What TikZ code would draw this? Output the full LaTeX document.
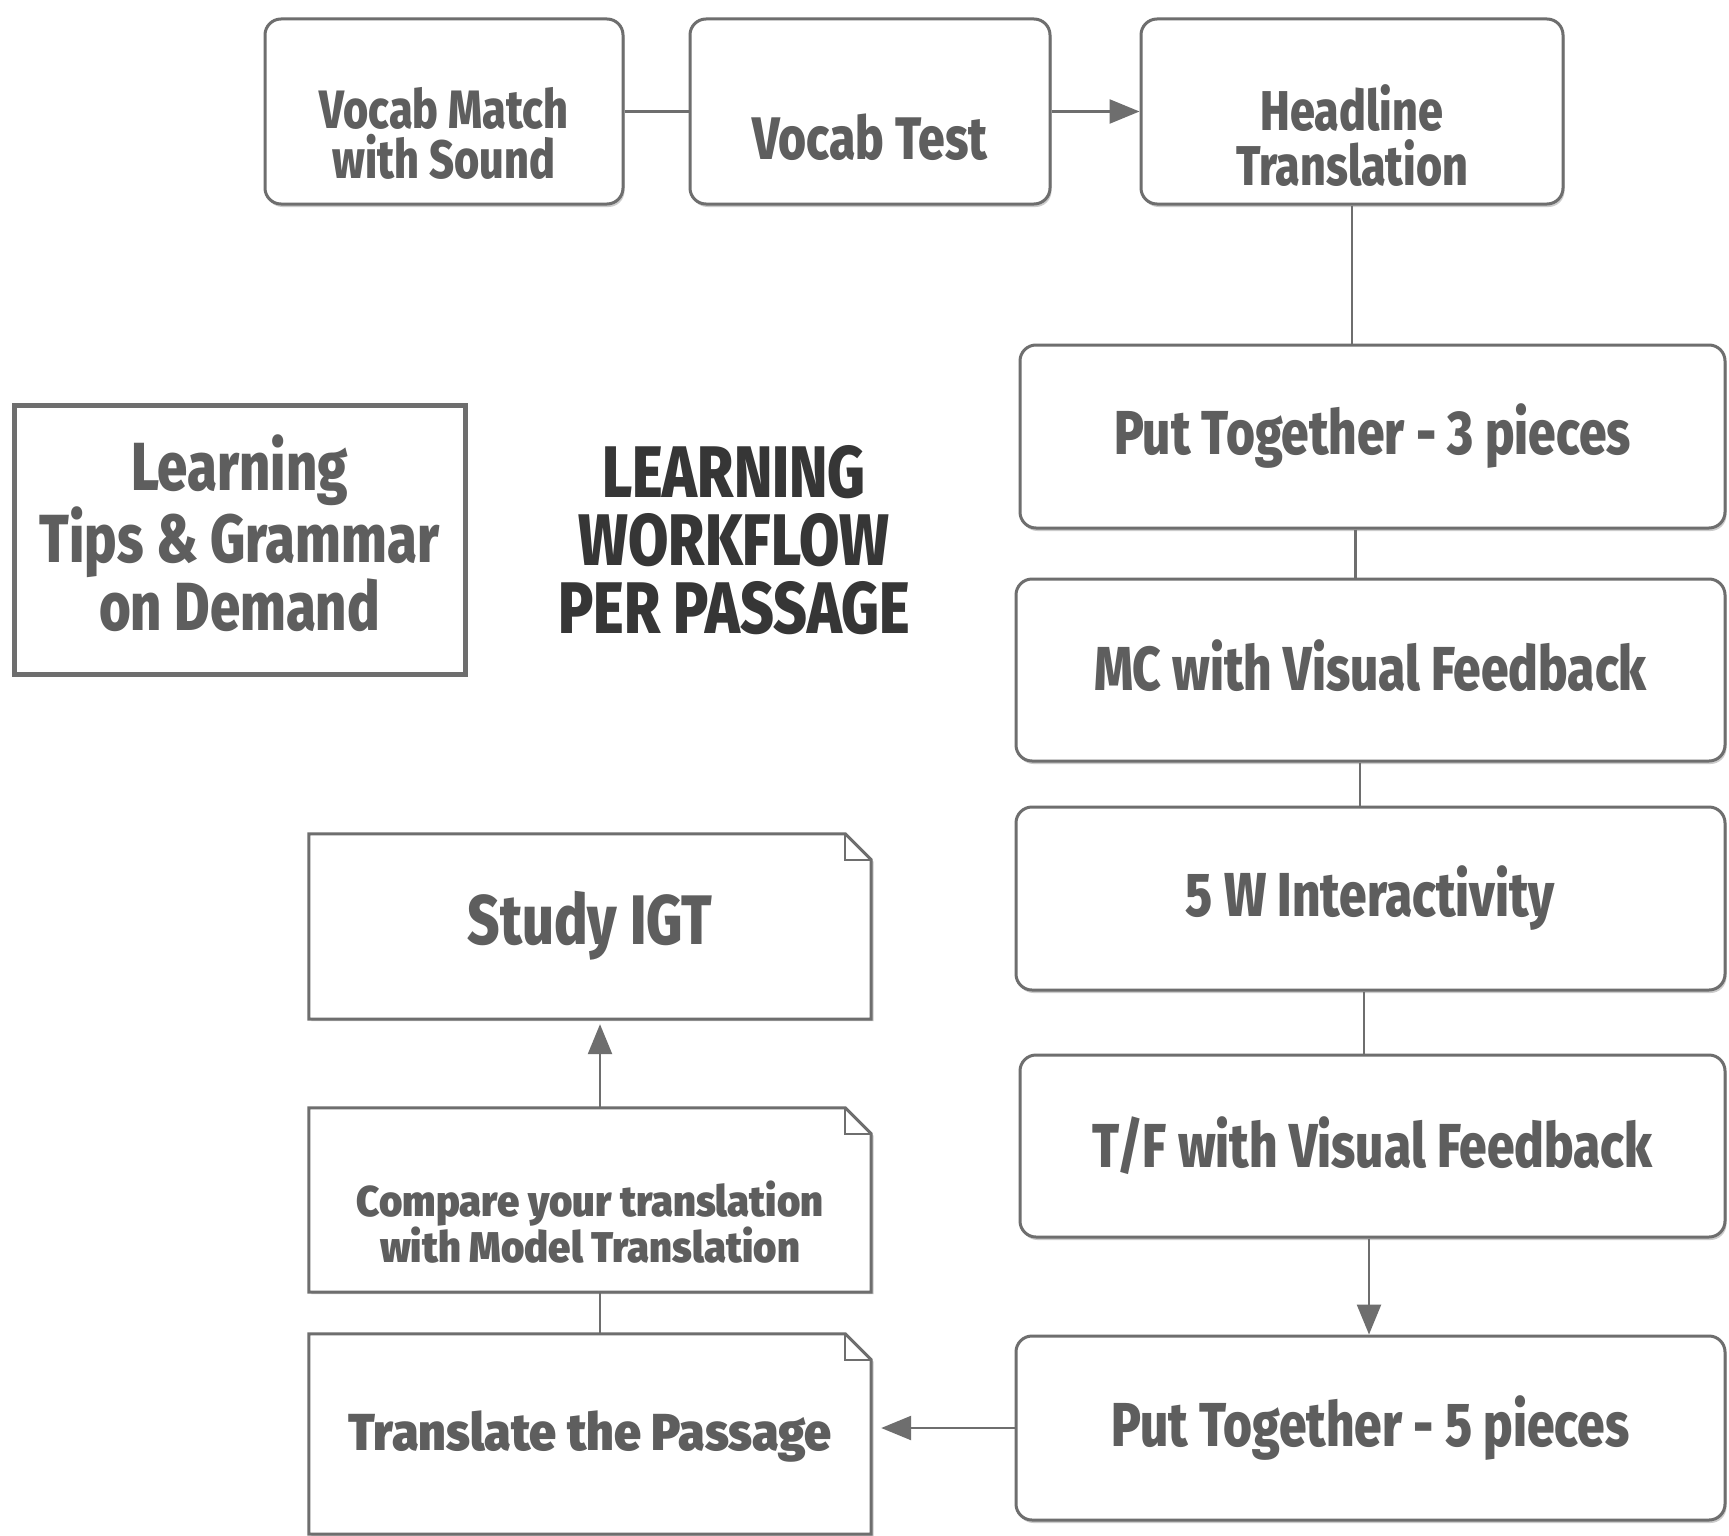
\documentclass[tikz,border=0pt]{standalone}
\usepackage{fontspec}
\setmainfont{Fira Sans}
\newfontfamily\hand[FakeStretch=0.8, BoldFont={Fira Sans ExtraBold}]{Fira Sans}
\newfontfamily\heavy[FakeStretch=0.93]{Fira Sans Black}
\usetikzlibrary{arrows.meta,shadows}
\definecolor{bord}{HTML}{6E6E6E}
\definecolor{txt}{HTML}{5E5E5E}
\definecolor{ttl}{HTML}{363636}
\newcommand\fs[2]{\fontsize{#1}{#2}\selectfont}
\tikzset{
  box/.style={draw=bord, line width=3pt, rounded corners=16pt, fill=white, inner sep=0pt,
    drop shadow={shadow xshift=1.5pt, shadow yshift=-3pt, fill=black!20, opacity=1}},
  lbl/.style={inner sep=0pt, text=txt, align=center},
  notebox/.style={inner sep=0pt},
  noteline/.style={draw=bord, line width=3pt, fill=white, line join=miter,
    drop shadow={shadow xshift=2.5pt, shadow yshift=-2pt, fill=black!20, opacity=1}},
  conn/.style={draw=bord, line width=2.5pt},
  arr/.style={conn, -{Triangle[length=30pt,width=24pt]}}
}
\begin{document}
\begin{tikzpicture}[x=1pt,y=-1pt]
\useasboundingbox (0,0) rectangle (1729,1536);
\fill[white] (0,0) rectangle (1729,1536);

% top row
\node[box, minimum width=358pt, minimum height=185pt] (vm) at (444,111.5) {};
\node[box, minimum width=360pt, minimum height=185pt] (vt) at (870,111.5) {};
\node[box, minimum width=422pt, minimum height=185pt] (hl) at (1352,111.5) {};
\node[lbl, font=\hand\bfseries\fs{54}{50}] (vmt) at ([yshift=-22pt]vm.center) {Vocab Match\\with Sound};
\node[lbl, font=\hand\bfseries\fs{60}{60}] (vtt) at ([yshift=-26pt]vt.center) {Vocab Test};
\node[lbl, font=\hand\bfseries\fs{56}{55}] (hlt) at ([yshift=-24pt]hl.center) {Headline\\Translation};

% right column
\node[box, minimum width=705pt, minimum height=183pt] (pt3) at (1372.5,436.5) {};
\node[box, minimum width=709pt, minimum height=182pt] (mc) at (1370.5,670) {};
\node[box, minimum width=709pt, minimum height=183pt] (fw) at (1370.5,898.5) {};
\node[box, minimum width=705pt, minimum height=182pt] (tf) at (1372.5,1146) {};
\node[box, minimum width=709pt, minimum height=184pt] (pt5) at (1370.5,1428) {};
\node[lbl, font=\hand\bfseries\fs{62}{62}] (pt3t) at (pt3.center) {Put Together - 3 pieces};
\node[lbl, font=\hand\bfseries\fs{62}{62}] (mct) at ([yshift=4pt]mc.center) {MC with Visual Feedback};
\node[lbl, font=\hand\bfseries\fs{62}{62}] (fwt) at (fw.center) {5 W Interactivity};
\node[lbl, font=\hand\bfseries\fs{62}{62}] (tft) at (tf.center) {T/F with Visual Feedback};
\node[lbl, font=\hand\bfseries\fs{62}{62}] (pt5t) at (pt5.center) {Put Together - 5 pieces};

% left side
\node[draw=bord, line width=5pt, fill=white, inner sep=0pt, minimum width=451pt,
  minimum height=269pt] (tips) at (239.5,539.5) {};
\node[lbl, font=\hand\bfseries\fs{68}{66}] (tipst) at ([yshift=6pt]tips.center)
  {Learning\\Tips \& Grammar\\on Demand};
\node[lbl, text=ttl, font=\hand\bfseries\fs{73}{68}] (title) at (734,540)
  {LEARNING\\WORKFLOW\\PER PASSAGE};

% dog-eared notes
\node[notebox, minimum width=562pt, minimum height=185pt] (igt) at (590,926.5) {};
\node[notebox, minimum width=562pt, minimum height=184pt] (cmp) at (590,1200) {};
\node[notebox, minimum width=562pt, minimum height=200pt] (trn) at (590,1434) {};
\foreach \n in {igt,cmp,trn}{
  \draw[noteline] (\n.south west) -- (\n.north west) -- ([xshift=-26pt]\n.north east)
    -- ([yshift=-26pt]\n.north east) -- (\n.south east) -- cycle;
  \draw[draw=bord, line width=1.5pt] ([xshift=-26pt]\n.north east)
    -- ([xshift=-26pt,yshift=-26pt]\n.north east) -- ([yshift=-26pt]\n.north east);
}
\node[lbl, font=\hand\bfseries\fs{70}{70}] (igtt) at (590,926) {Study IGT};
\node[lbl, font=\heavy\fs{43}{46}] (cmpt) at (590,1222)
  {Compare your translation\\with Model Translation};
\node[lbl, font=\heavy\fs{52}{52}] (trnt) at ([yshift=-3pt]trn.center) {Translate the Passage};

% connectors
\draw[conn] (vm.east) -- (vt.west);
\draw[arr] (vt.east) -- (hl.west);
\draw[conn] (hl.south) -- (hl.south |- pt3.north);
\draw[conn] ([xshift=-17pt]pt3.south) -- ([xshift=-17pt]pt3.south |- mc.north);
\draw[conn] ([xshift=-10.5pt]mc.south) -- ([xshift=-10.5pt]mc.south |- fw.north);
\draw[conn] ([xshift=-6.5pt]fw.south) -- ([xshift=-6.5pt]fw.south |- tf.north);
\draw[arr] ([xshift=-3.5pt]tf.south) -- ([xshift=-3.5pt]tf.south |- pt5.north);
\draw[arr, shorten >=10pt] (pt5.west) -- (pt5.west -| trn.east);
\draw[arr, shorten >=5pt] ([xshift=10pt]cmp.north) -- ([xshift=10pt]igt.south);
\draw[conn] ([xshift=10pt]cmp.south) -- ([xshift=10pt]trn.north);
\end{tikzpicture}
\end{document}
